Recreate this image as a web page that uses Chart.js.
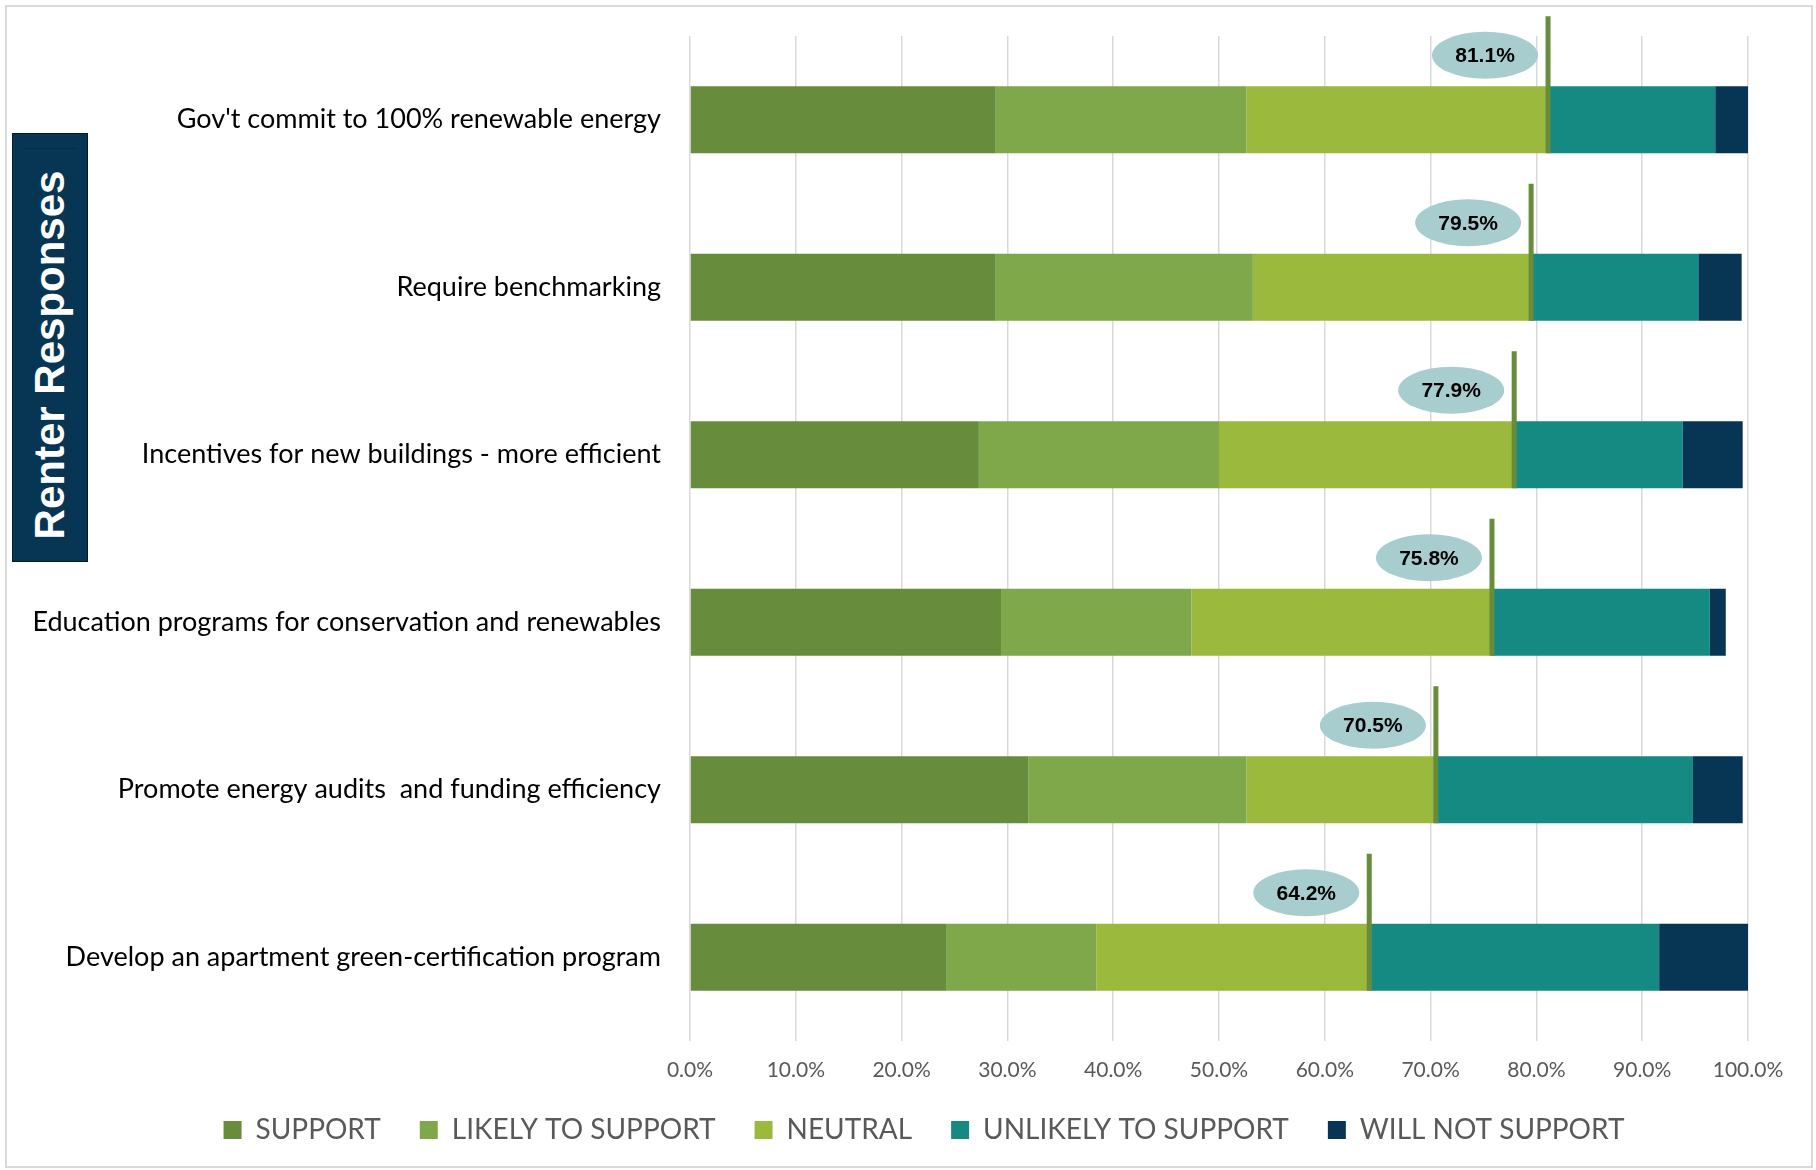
<!DOCTYPE html>
<html><head><meta charset="utf-8">
<script src="https://cdn.jsdelivr.net/npm/chart.js@4.4.0/dist/chart.umd.min.js"></script>
<style>
html,body{margin:0;padding:0;background:#fff;}
#wrap{position:relative;width:1816px;height:1170px;overflow:hidden;}
#frame{position:absolute;left:5px;top:5px;width:1808px;height:1163px;border:2px solid #D9D9D9;box-sizing:border-box;}
#c{position:absolute;left:0;top:0;}
#side{position:absolute;left:12px;top:133px;width:76px;height:429px;background:#073654;border:1px solid #0a1a26;box-sizing:border-box;}
#side i{position:absolute;left:10px;right:10px;top:14px;height:1px;background:#062b44;}
#side span{position:absolute;left:50%;top:calc(50% + 7px);transform:translate(-50%,-50%) rotate(-90deg);white-space:nowrap;color:#fff;font:bold 42px "Liberation Sans",Arial,sans-serif;line-height:1.15;}
</style></head>
<body><div id="wrap"><div id="frame"></div><canvas id="c" width="1816" height="1170"></canvas><div id="side"><i></i><span>Renter Responses</span></div></div>
<script>
const categories = [
  "Gov't commit to 100% renewable energy",
  "Require benchmarking",
  "Incentives for new buildings - more efficient",
  "Education programs for conservation and renewables",
  "Promote energy audits  and funding efficiency",
  "Develop an apartment green-certification program"
];
const seriesNames = ["SUPPORT", "LIKELY TO SUPPORT", "NEUTRAL", "UNLIKELY TO SUPPORT", "WILL NOT SUPPORT"];
const support  = [28.9, 28.9, 27.3, 29.4, 32.0, 24.2];
const likely   = [23.7, 24.3, 22.7, 18.0, 20.6, 14.2];
const neutral  = [28.5, 26.3, 27.9, 28.4, 17.9, 25.8];
const unlikely = [15.8, 15.8, 15.9, 20.6, 24.3, 27.4];
const willNot  = [3.1, 4.1, 5.7, 1.5, 4.7, 8.4];
const markers  = [81.1, 79.5, 77.9, 75.8, 70.5, 64.2];
const xTickValues = [0, 10, 20, 30, 40, 50, 60, 70, 80, 90, 100];

const colors = ["#678C3C", "#7EA84A", "#9BB93D", "#158A82", "#073654"];
const seriesData = [support, likely, neutral, unlikely, willNot];

const markerPlugin = {
  id: 'markers',
  afterLayout(chart) {
    const lg = chart.legend;
    if (lg) { lg.left += 50; lg.right += 50; }
  },
  afterDatasetsDraw(chart) {
    const ctx = chart.ctx;
    const x = chart.scales.x;
    const meta = chart.getDatasetMeta(2);
    markers.forEach((v, i) => {
      const bar = meta.data[i];
      const px = x.getPixelForValue(v);
      const top = bar.y - bar.height / 2, bottom = bar.y + bar.height / 2;
      ctx.save();
      ctx.strokeStyle = '#678C3C';
      ctx.lineWidth = 5;
      ctx.beginPath();
      ctx.moveTo(px, bottom);
      ctx.lineTo(px, top - 70);
      ctx.stroke();
      const cx = px - 63, cy = top - 31;
      ctx.fillStyle = '#A8CDCE';
      ctx.beginPath();
      ctx.ellipse(cx, cy, 53, 23.5, 0, 0, Math.PI * 2);
      ctx.fill();
      ctx.fillStyle = '#000';
      ctx.font = 'bold 21px "Liberation Sans", Arial, sans-serif';
      ctx.textAlign = 'center';
      ctx.textBaseline = 'middle';
      ctx.fillText(v.toFixed(1) + '%', cx, cy + 1);
      ctx.restore();
    });
  }
};

new Chart(document.getElementById('c'), {
  type: 'bar',
  data: {
    labels: categories,
    datasets: seriesNames.map((n, k) => ({
      label: n,
      data: seriesData[k],
      backgroundColor: colors[k],
      borderWidth: 0,
      barPercentage: 0.4,
      categoryPercentage: 1.0
    }))
  },
  options: {
    indexAxis: 'y',
    responsive: false,
    animation: false,
    layout: { padding: { top: 36, right: 68, left: 0, bottom: 16 } },
    scales: {
      x: {
        stacked: true,
        min: 0, max: 100,
        afterBuildTicks(s) { s.ticks = xTickValues.map(v => ({ value: v })); },
        afterFit(s) { s.height = 36; },
        ticks: {
          callback: v => Number(v).toFixed(1) + '%',
          color: '#595959',
          font: { family: 'Lato', size: 21 },
          padding: 17,
          maxRotation: 0
        },
        grid: { color: '#D9D9D9', lineWidth: 1.5, drawTicks: false },
        border: { display: false }
      },
      y: {
        stacked: true,
        afterFit(s) { s.width = 690; s.paddingTop = 0; s.paddingBottom = 0; },
        ticks: {
          color: '#000',
          font: { family: 'Lato', size: 27 },
          padding: 29
        },
        grid: { display: false, drawTicks: false },
        border: { display: false }
      }
    },
    plugins: {
      legend: {
        position: 'bottom',
        labels: {
          boxWidth: 18, boxHeight: 18,
          color: '#595959',
          font: { family: 'Lato', size: 28 },
          padding: 39
        }
      },
      tooltip: { enabled: false }
    }
  },
  plugins: [markerPlugin]
});
</script>
</body></html>
